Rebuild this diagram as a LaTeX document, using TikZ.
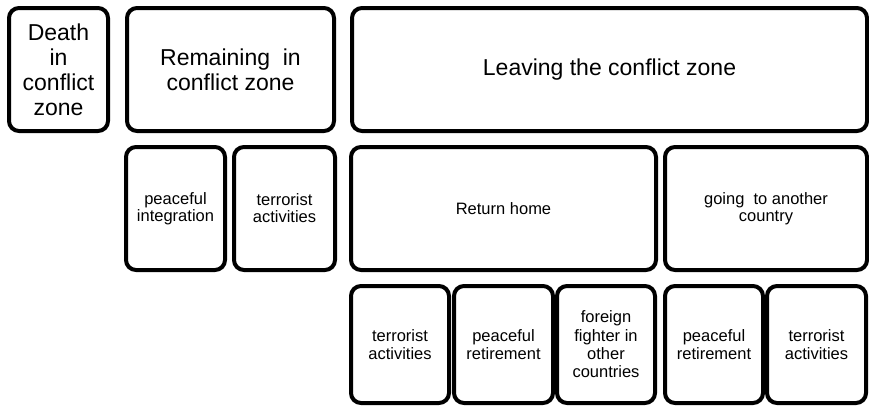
\documentclass[tikz,border=0pt]{standalone}
\usepackage{fontspec}
\setmainfont{Liberation Sans}
\tikzset{
  box/.style={draw=black, line width=4pt, rounded corners=10pt, align=center, inner sep=0pt, fill=white},
  lvlone/.style={box, font=\fontsize{23}{25}\selectfont},
  lvltwo/.style={box, font=\fontsize{16.5}{17}\selectfont},
  lvlthree/.style={box, font=\fontsize{16.5}{18.3}\selectfont}
}
\begin{document}
\begin{tikzpicture}[x=1pt,y=-1pt]
\useasboundingbox (0,0) rectangle (869,407);
\clip (0,0) rectangle (869,407);
% level 1
\node[lvlone, minimum width=99pt, minimum height=123pt] (death) at (58.5,69.5) {Death\\in\\conflict\\zone};
\node[lvlone, minimum width=207pt, minimum height=123pt] (remain) at (230.5,69.5) {Remaining\ \ in\\conflict zone};
\node[lvlone, minimum width=515pt, minimum height=123pt] (leave) at (609.5,69.5) {Leaving\ the conflict zone};
% level 2
\node[lvltwo, minimum width=99pt, minimum height=123pt] (pint) at (175.5,208.5) {peaceful\\integration};
\node[lvltwo, minimum width=101pt, minimum height=123pt] (tact) at (284.5,208.5) {terrorist\\activities};
\node[lvltwo, minimum width=305pt, minimum height=123pt] (rhome) at (503.5,208.5) {Return home};
\node[lvltwo, minimum width=202pt, minimum height=123pt] (goth) at (766,208.5) {going\ \ to another\\country};
% level 3
\node[lvlthree, minimum width=98pt, minimum height=117pt] (rta) at (400,344.5) {terrorist\\activities};
\node[lvlthree, minimum width=99pt, minimum height=117pt] (rpr) at (503.5,344.5) {peaceful\\retirement};
\node[lvlthree, minimum width=98pt, minimum height=117pt] (rff) at (606,344.5) {foreign\\fighter\ in\\other\\countries};
\node[lvlthree, minimum width=98pt, minimum height=117pt] (gpr) at (714,344.5) {peaceful\\retirement};
\node[lvlthree, minimum width=99pt, minimum height=117pt] (gta) at (816.5,344.5) {terrorist\\activities};
\end{tikzpicture}
\end{document}
